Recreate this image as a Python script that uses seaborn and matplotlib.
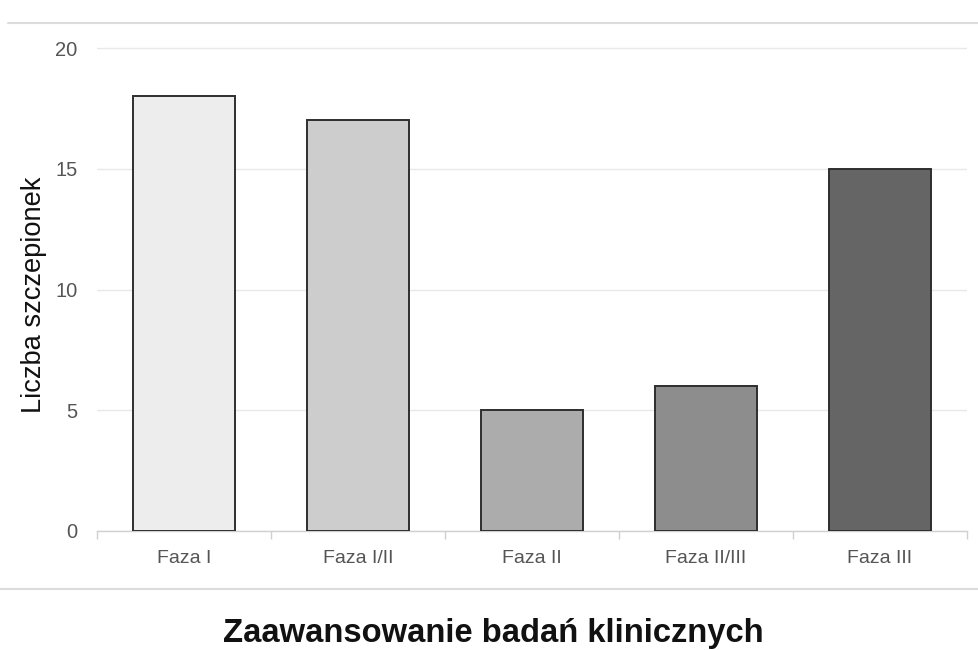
import matplotlib
matplotlib.use("Agg")
import matplotlib.pyplot as plt
from matplotlib.lines import Line2D
import seaborn as sns
import pandas as pd

categories = ["Faza I", "Faza I/II", "Faza II", "Faza II/III", "Faza III"]
values = [18, 17, 5, 6, 15]
colors = ["#ededed", "#cdcdcd", "#acacac", "#8d8d8d", "#656565"]
yticks = [0, 5, 10, 15, 20]

sns.set_theme(style="white")
plt.rcParams["font.family"] = ["Liberation Sans", "DejaVu Sans"]

W, H = 979, 650
fig = plt.figure(figsize=(W / 100, H / 100), dpi=100)
y0_px, per_unit = 531, 24.15
ymax = 20.6
top_px = y0_px - ymax * per_unit
ax = fig.add_axes([97 / W, (H - y0_px) / H, (967 - 97) / W, (y0_px - top_px) / H])

df = pd.DataFrame({"cat": categories, "val": values})
sns.barplot(data=df, x="cat", y="val", hue="cat", palette=dict(zip(categories, colors)),
            width=0.59, edgecolor="#2e2e2e", linewidth=1.4, legend=False, ax=ax, zorder=3)

ax.set_xlim(-0.5, 4.5)
ax.set_ylim(0, ymax)
ax.set_yticks(yticks)
ax.yaxis.grid(True, color="#e8e8e8", linewidth=1.0, zorder=0)
ax.set_axisbelow(True)
for s in ["top", "right", "left"]:
    ax.spines[s].set_visible(False)
ax.spines["bottom"].set_color("#d0d0d0")
ax.spines["bottom"].set_linewidth(1.0)
ax.set_xticks([i - 0.5 for i in range(len(categories) + 1)], minor=True)
ax.tick_params(axis="x", which="minor", length=6, color="#d0d0d0", width=1.0, bottom=True)
ax.tick_params(axis="x", which="major", length=0, pad=14, labelsize=14, labelcolor="#555555")
ax.tick_params(axis="y", length=0, pad=14, labelsize=14.5, labelcolor="#555555")
ax.set_xlabel("")
ax.set_ylabel("")

fig.text(34 / W, (H - 295) / H, "Liczba szczepionek", rotation=90, ha="center", va="center",
         fontsize=19.6, color="#111111")
fig.text(493 / W, (H - 642) / H, "Zaawansowanie badań klinicznych", ha="center", va="baseline",
         fontsize=23.6, fontweight="bold", color="#111111")

fig.add_artist(Line2D([8 / W, 1], [(H - 23) / H] * 2, color="#dcdcdc", linewidth=1.5))
fig.add_artist(Line2D([0, 1], [(H - 589) / H] * 2, color="#dcdcdc", linewidth=1.5))

fig.savefig("out.png", dpi=100)
